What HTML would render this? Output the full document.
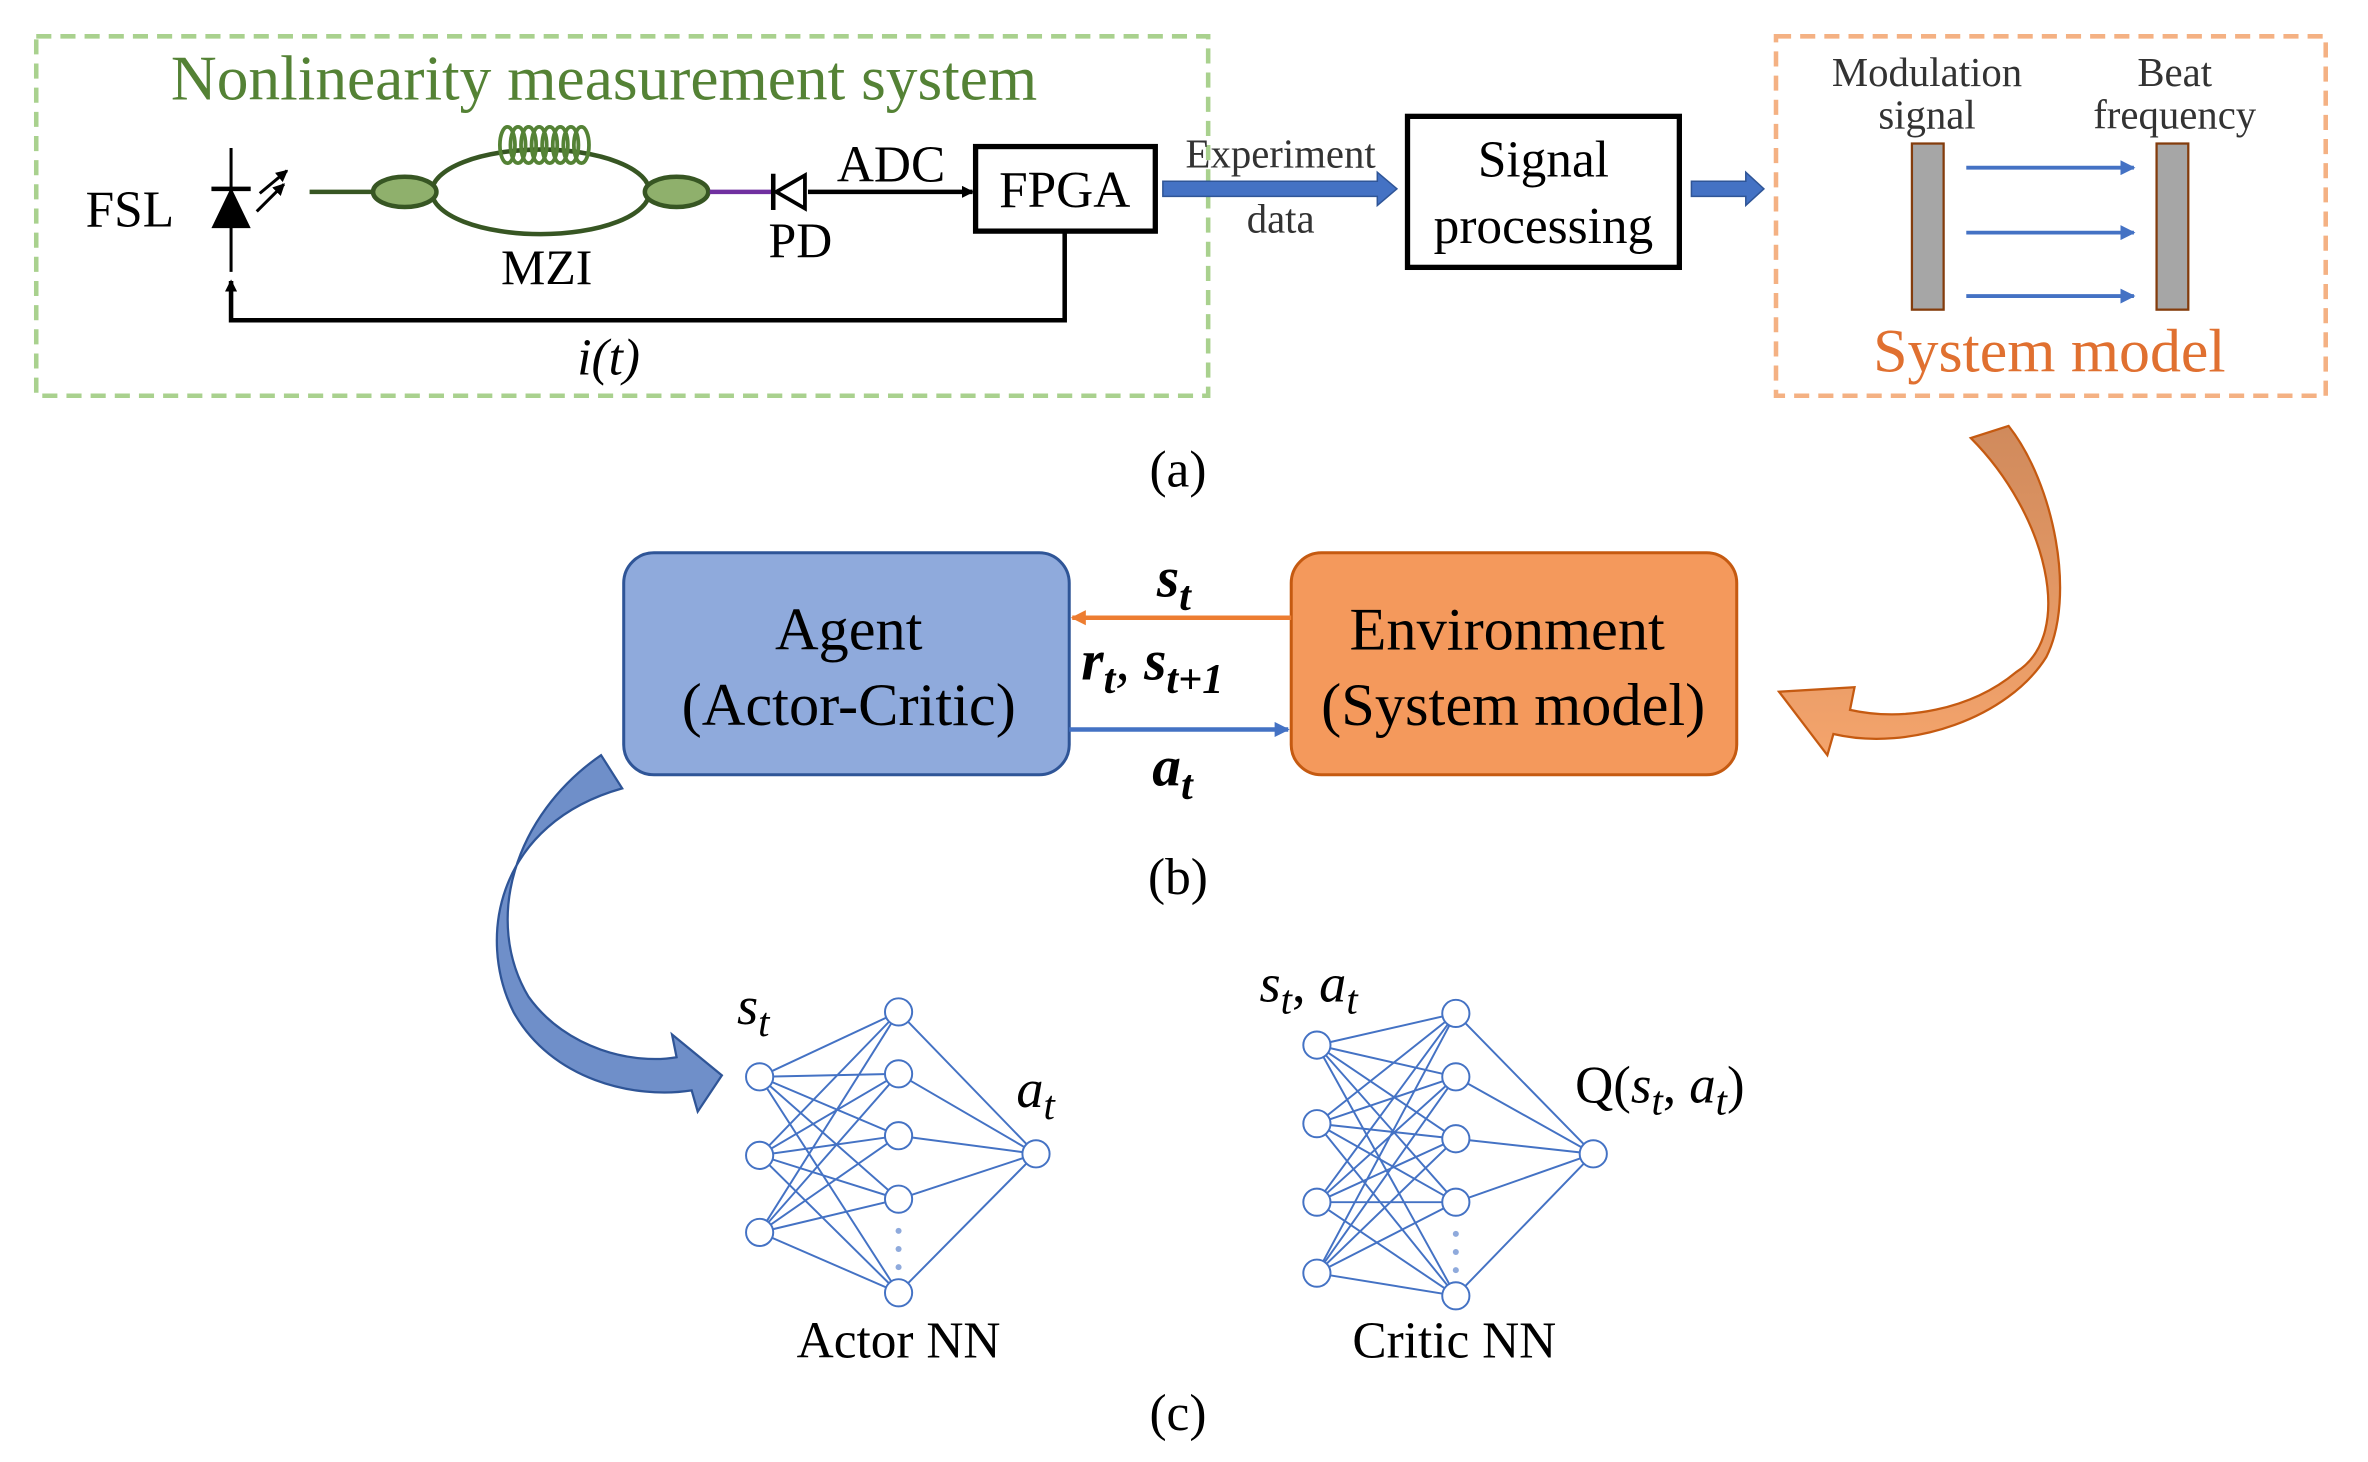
<!DOCTYPE html>
<html><head><meta charset="utf-8"><style>
html,body{margin:0;padding:0;background:#fff;width:2368px;height:1462px;overflow:hidden}
svg{display:block}
text{font-family:"Liberation Serif",serif}
</style></head><body>
<svg id="s" width="2368" height="1462" viewBox="0 0 1568 968" xmlns="http://www.w3.org/2000/svg">
<defs>
<marker id="ab" markerWidth="8" markerHeight="8" refX="7" refY="4" orient="auto" markerUnits="userSpaceOnUse"><path d="M0,0 L8,4 L0,8 z" fill="#000"/></marker>
<marker id="abl" markerWidth="10" markerHeight="10" refX="9" refY="5" orient="auto" markerUnits="userSpaceOnUse"><path d="M0,0 L10,5 L0,10 z" fill="#4472c4"/></marker>
<marker id="aor" markerWidth="10" markerHeight="10" refX="9" refY="5" orient="auto" markerUnits="userSpaceOnUse"><path d="M0,0 L10,5 L0,10 z" fill="#ed7d31"/></marker>
<linearGradient id="og" x1="0" y1="0" x2="0" y2="1"><stop offset="0" stop-color="#d08a5c"/><stop offset="1" stop-color="#f4a46c"/></linearGradient>
</defs>
<!-- (a) -->
<rect x="24" y="24" width="776" height="238" fill="none" stroke="#a9d18e" stroke-width="3" stroke-dasharray="10,6"/>
<text x="400" y="66" font-size="42" fill="#548235" text-anchor="middle">Nonlinearity measurement system</text>
<text x="86" y="150" font-size="34" text-anchor="middle">FSL</text>
<line x1="153" y1="98" x2="153" y2="180" stroke="#000" stroke-width="2"/>
<line x1="140" y1="125" x2="166" y2="125" stroke="#000" stroke-width="3"/>
<path d="M140,125 L166,125 L153,152 z" fill="#000" transform="rotate(180 153 138)"/>
<line x1="170" y1="140" x2="188" y2="122" stroke="#000" stroke-width="2" marker-end="url(#ab)"/>
<line x1="172" y1="128" x2="190" y2="113" stroke="#000" stroke-width="2" marker-end="url(#ab)"/>
<line x1="205" y1="127" x2="250" y2="127" stroke="#375623" stroke-width="3"/>
<ellipse cx="358" cy="127" rx="72" ry="28" fill="none" stroke="#375623" stroke-width="3"/>
<g fill="none" stroke="#548235" stroke-width="2.5">
<ellipse cx="336" cy="96" rx="5" ry="12"/><ellipse cx="343" cy="96" rx="5" ry="12"/><ellipse cx="350" cy="96" rx="5" ry="12"/><ellipse cx="357" cy="96" rx="5" ry="12"/><ellipse cx="364" cy="96" rx="5" ry="12"/><ellipse cx="371" cy="96" rx="5" ry="12"/><ellipse cx="378" cy="96" rx="5" ry="12"/><ellipse cx="385" cy="96" rx="5" ry="12"/></g>
<ellipse cx="268" cy="127" rx="21" ry="10" fill="#8fb06c" stroke="#375623" stroke-width="3"/>
<ellipse cx="448" cy="127" rx="21" ry="10" fill="#8fb06c" stroke="#375623" stroke-width="3"/>
<text x="362" y="188" font-size="33" text-anchor="middle">MZI</text>
<line x1="470" y1="127" x2="512" y2="127" stroke="#7030a0" stroke-width="3"/>
<path d="M533,116 L533,138 L514,127 z" fill="#fff" stroke="#000" stroke-width="2.5"/>
<line x1="512" y1="115" x2="512" y2="139" stroke="#000" stroke-width="3"/>
<line x1="535" y1="127" x2="644" y2="127" stroke="#000" stroke-width="3" marker-end="url(#ab)"/>
<text x="590" y="120" font-size="34" text-anchor="middle">ADC</text>
<text x="530" y="170" font-size="33" text-anchor="middle">PD</text>
<rect x="646" y="97" width="119" height="56" fill="#fff" stroke="#000" stroke-width="3.5"/>
<text x="705" y="137" font-size="34" text-anchor="middle">FPGA</text>
<polyline points="705,153 705,212 153,212 153,186" fill="none" stroke="#000" stroke-width="3" marker-end="url(#ab)"/>
<text x="403" y="248" font-size="34" font-style="italic" text-anchor="middle">i(t)</text>
<path d="M770,120 L912,120 L912,114 L925,125 L912,136 L912,130 L770,130 z" fill="#4472c4" stroke="#2f5597" stroke-width="1"/>
<text x="848" y="111" font-size="27" text-anchor="middle" fill="#333">Experiment</text>
<text x="848" y="154" font-size="27" text-anchor="middle" fill="#333">data</text>
<rect x="932" y="77" width="180" height="100" fill="#fff" stroke="#000" stroke-width="3.5"/>
<text x="1022" y="117" font-size="34" text-anchor="middle">Signal</text>
<text x="1022" y="161" font-size="34" text-anchor="middle">processing</text>
<path d="M1120,120 L1156,120 L1156,114 L1168,125 L1156,136 L1156,130 L1120,130 z" fill="#4472c4" stroke="#2f5597" stroke-width="1"/>
<rect x="1176" y="24" width="364" height="238" fill="none" stroke="#f4b183" stroke-width="3" stroke-dasharray="10,6"/>
<text x="1276" y="57" font-size="27" text-anchor="middle" fill="#333">Modulation</text>
<text x="1276" y="85" font-size="27" text-anchor="middle" fill="#333">signal</text>
<text x="1440" y="57" font-size="27" text-anchor="middle" fill="#333">Beat</text>
<text x="1440" y="85" font-size="27" text-anchor="middle" fill="#333">frequency</text>
<rect x="1266" y="95" width="21" height="110" fill="#a6a6a6" stroke="#843c0c" stroke-width="1.5"/>
<rect x="1428" y="95" width="21" height="110" fill="#a6a6a6" stroke="#843c0c" stroke-width="1.5"/>
<line x1="1302" y1="111" x2="1413" y2="111" stroke="#4472c4" stroke-width="2.5" marker-end="url(#abl)"/>
<line x1="1302" y1="154" x2="1413" y2="154" stroke="#4472c4" stroke-width="2.5" marker-end="url(#abl)"/>
<line x1="1302" y1="196" x2="1413" y2="196" stroke="#4472c4" stroke-width="2.5" marker-end="url(#abl)"/>
<text x="1357" y="246" font-size="41" text-anchor="middle" fill="#e07030">System model</text>
<text x="780" y="322" font-size="34" text-anchor="middle">(a)</text>
<!-- orange curved arrow -->
<path d="M1305,290 C1355,340 1375,420 1335,445 C1305,470 1260,478 1225,470 L1228,455 L1178,458 L1210,500 L1214,486 C1265,498 1330,475 1355,435 C1375,395 1360,320 1330,282 z" fill="url(#og)" stroke="#c55a11" stroke-width="1.5"/>
<!-- (b) -->
<rect x="413" y="366" width="295" height="147" rx="20" fill="#8faadc" stroke="#2f5597" stroke-width="2"/>
<text x="562" y="430" font-size="40" text-anchor="middle">Agent</text>
<text x="562" y="480" font-size="40" text-anchor="middle">(Actor-Critic)</text>
<rect x="855" y="366" width="295" height="147" rx="20" fill="#f4995c" stroke="#c55a11" stroke-width="2"/>
<text x="998" y="430" font-size="40" text-anchor="middle">Environment</text>
<text x="1002" y="480" font-size="40" text-anchor="middle">(System model)</text>
<line x1="855" y1="409" x2="710" y2="409" stroke="#ed7d31" stroke-width="3" marker-end="url(#aor)"/>
<line x1="708" y1="483" x2="853" y2="483" stroke="#4472c4" stroke-width="3" marker-end="url(#abl)"/>
<text x="766" y="395" font-size="38" font-weight="bold" font-style="italic">s<tspan font-size="28" dy="9">t</tspan></text>
<text x="716" y="450" font-size="38" font-weight="bold" font-style="italic">r<tspan font-size="28" dy="9">t</tspan><tspan dy="-9" font-weight="normal">, </tspan>s<tspan font-size="28" dy="9">t+1</tspan></text>
<text x="763" y="520" font-size="38" font-weight="bold" font-style="italic">a<tspan font-size="28" dy="9">t</tspan></text>
<text x="780" y="592" font-size="34" text-anchor="middle">(b)</text>
<!-- blue curved arrow -->
<path d="M398,500 C340,540 320,610 350,660 C375,695 420,705 448,700 L445,685 L478,712 L462,736 L458,722 C420,728 365,715 340,670 C315,620 330,545 412,522 z" fill="#6f8fc9" stroke="#2f5597" stroke-width="1.5"/>
<g id="nn" stroke="#4472c4" stroke-width="1.3" fill="none"></g>
<g fill="#8faadc"><circle cx="595" cy="815" r="2"/><circle cx="595" cy="827" r="2"/><circle cx="595" cy="839" r="2"/><circle cx="964" cy="817" r="2"/><circle cx="964" cy="829" r="2"/><circle cx="964" cy="841" r="2"/></g>
<text x="488" y="678" font-size="36" font-style="italic">s<tspan font-size="27" dy="8">t</tspan></text>
<text x="673" y="733" font-size="36" font-style="italic">a<tspan font-size="27" dy="8">t</tspan></text>
<text x="595" y="899" font-size="34" text-anchor="middle">Actor NN</text>
<text x="834" y="663" font-size="36" font-style="italic">s<tspan font-size="27" dy="8">t</tspan><tspan dy="-8" font-style="normal">, </tspan>a<tspan font-size="27" dy="8">t</tspan></text>
<text x="1043" y="730" font-size="35">Q(<tspan font-style="italic">s</tspan><tspan font-size="27" dy="8" font-style="italic">t</tspan><tspan dy="-8">, </tspan><tspan font-style="italic">a</tspan><tspan font-size="27" dy="8" font-style="italic">t</tspan><tspan dy="-8">)</tspan></text>
<text x="963" y="899" font-size="34" text-anchor="middle">Critic NN</text>
<text x="780" y="947" font-size="34" text-anchor="middle">(c)</text>
</svg>
<script>
var g=document.getElementById('nn'),ns='http://www.w3.org/2000/svg';
function net(ix,iy,hx,hy,ox,oy){
 iy.forEach(function(a){hy.forEach(function(b){ln(ix,a,hx,b)})});
 hy.forEach(function(b){ln(hx,b,ox,oy)});
 iy.forEach(function(a){c(ix,a)});hy.forEach(function(b){c(hx,b)});c(ox,oy);}
function ln(a,b,c2,d){var l=document.createElementNS(ns,'line');l.setAttribute('x1',a);l.setAttribute('y1',b);l.setAttribute('x2',c2);l.setAttribute('y2',d);g.appendChild(l);}
function c(x,y){var e=document.createElementNS(ns,'circle');e.setAttribute('cx',x);e.setAttribute('cy',y);e.setAttribute('r',9);e.setAttribute('fill','#fff');g.appendChild(e);}
net(503,[713,765,816],595,[670,711,752,794,856],686,764);
net(872,[692,744,796,843],964,[671,713,754,796,858],1055,764);
</script>
</body></html>
